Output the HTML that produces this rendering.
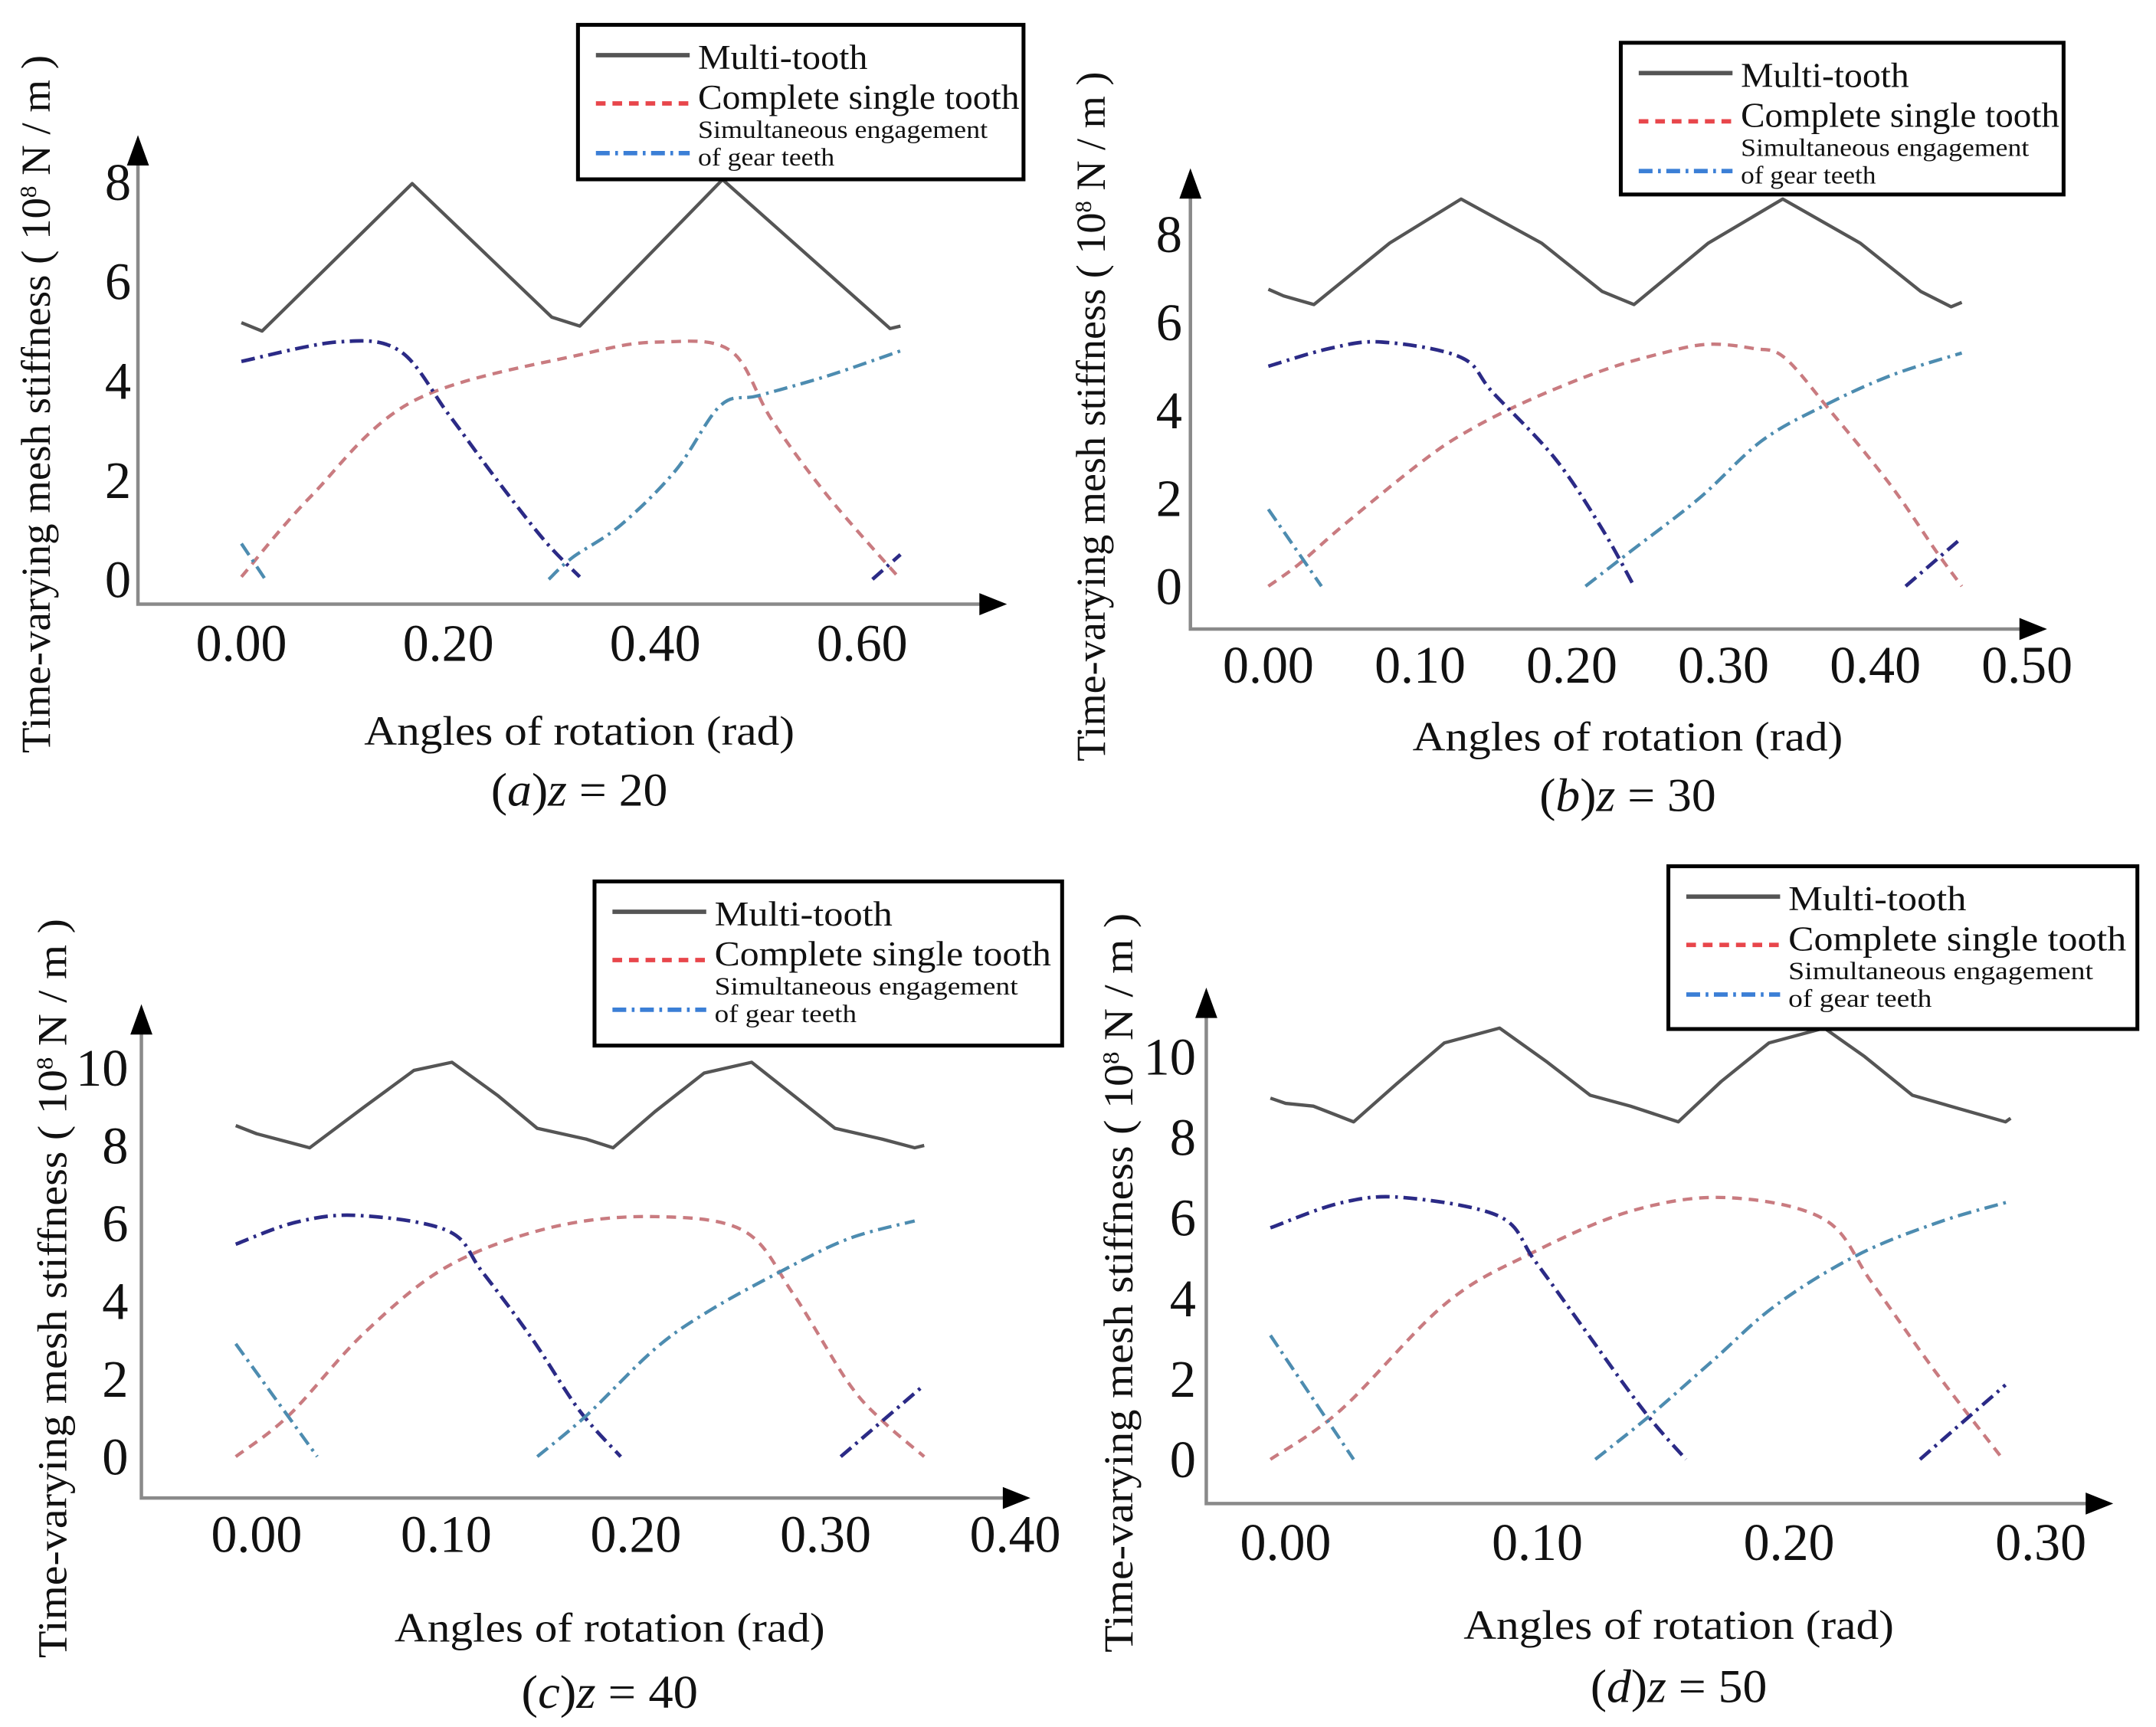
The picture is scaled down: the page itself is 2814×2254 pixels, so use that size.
<!DOCTYPE html>
<html><head><meta charset="utf-8"><title>Time-varying mesh stiffness</title>
<style>
html,body{margin:0;padding:0;background:#fff;}
svg{display:block;}
text{font-family:"Liberation Serif",serif;fill:#111;}
</style></head>
<body>
<svg id="fig" xmlns="http://www.w3.org/2000/svg" width="2814" height="2254" viewBox="0 0 1563 1252" preserveAspectRatio="none"></svg>
<script>
// ---------- data (rad, 1e8 N/m) ----------
const aMultiX=[0,0.02,0.165,0.3,0.327,0.465,0.627,0.637];
const aMultiY=[5.17,5.0,7.97,5.28,5.1,8.05,5.05,5.1];
const aRedX=[0,0.067,0.167,0.333,0.407,0.473,0.513,0.567,0.637];
const aRedY=[0.05,1.67,3.6,4.55,4.78,4.6,3.2,1.67,0];
const aDarkX=[0,0.093,0.153,0.2,0.247,0.293,0.327];
const aDarkY=[4.39,4.78,4.6,3.33,2.0,0.78,0.05];
const aDark2X=[0.61,0.637];
const aDark2Y=[0,0.5];
const aLightX=[0,0.023];
const aLightY=[0.72,0];
const aLight2X=[0.297,0.32,0.367,0.42,0.463,0.5,0.567,0.637];
const aLight2Y=[0,0.44,1.1,2.2,3.5,3.7,4.1,4.6];

const bMultiX=[0,0.01,0.03,0.08,0.127,0.18,0.22,0.241,0.29,0.339,0.39,0.43,0.45,0.457];
const bMultiY=[6.75,6.6,6.4,7.8,8.8,7.8,6.7,6.4,7.8,8.8,7.8,6.7,6.35,6.45];
const bRedX=[0,0.02,0.05,0.1,0.13,0.17,0.22,0.26,0.29,0.32,0.34,0.37,0.41,0.44,0.457];
const bRedY=[0,0.5,1.4,2.8,3.5,4.2,4.9,5.3,5.5,5.4,5.2,4.0,2.3,0.8,0];
const bDarkX=[0,0.04,0.075,0.127,0.148,0.189,0.22,0.241];
const bDarkY=[5.0,5.4,5.55,5.2,4.4,2.9,1.3,0];
const bDark2X=[0.42,0.457];
const bDark2Y=[0,1.1];
const bLightX=[0,0.035];
const bLightY=[1.75,0];
const bLight2X=[0.209,0.239,0.284,0.325,0.366,0.411,0.457];
const bLight2Y=[0,0.8,2.0,3.3,4.1,4.8,5.3];

const cMultiX=[-0.011,0,0.028,0.057,0.083,0.103,0.127,0.148,0.174,0.188,0.21,0.236,0.261,0.283,0.305,0.33,0.347,0.352];
const cMultiY=[8.51,8.3,7.94,9.0,9.93,10.14,9.29,8.44,8.16,7.94,8.87,9.86,10.14,9.29,8.44,8.16,7.94,8.0];
const cRedX=[-0.011,0.017,0.057,0.101,0.156,0.21,0.257,0.283,0.312,0.33,0.352];
const cRedY=[0,1.06,3.19,4.9,5.9,6.17,5.8,4.18,1.9,0.92,0];
const cDarkX=[-0.011,0.021,0.054,0.101,0.119,0.145,0.17,0.192];
const cDarkY=[5.46,6.03,6.2,5.8,4.75,3.05,1.2,0];
const cDark2X=[0.308,0.352];
const cDark2Y=[0,1.84];
const cLightX=[-0.011,0.032];
const cLightY=[2.9,0];
const cLight2X=[0.148,0.174,0.21,0.239,0.276,0.312,0.347];
const cLight2Y=[0,1.06,2.77,3.76,4.75,5.6,6.06];

const dMultiX=[-0.006,0,0.011,0.027,0.044,0.063,0.085,0.104,0.121,0.137,0.156,0.173,0.192,0.214,0.23,0.249,0.268,0.286,0.288];
const dMultiY=[8.97,8.84,8.77,8.38,9.32,10.34,10.71,9.86,9.04,8.77,8.38,9.38,10.34,10.71,10.0,9.04,8.7,8.38,8.47];
const dRedX=[-0.006,0.022,0.063,0.096,0.137,0.175,0.214,0.233,0.258,0.285];
const dRedY=[0,1.23,3.84,5.07,6.16,6.5,5.96,4.38,2.19,0];
const dDarkX=[-0.006,0.022,0.047,0.085,0.099,0.118,0.142,0.159];
const dDarkY=[5.75,6.37,6.5,6.03,4.93,3.29,1.23,0];
const dDark2X=[0.252,0.286];
const dDark2Y=[0,1.85];
const dLightX=[-0.006,0.027];
const dLightY=[3.08,0];
const dLight2X=[0.123,0.145,0.17,0.195,0.227,0.26,0.288];
const dLight2Y=[0,1.1,2.47,3.84,5.07,5.9,6.41];

const aXTicks=[0,0.2,0.4,0.6], aXLabels=["0.00","0.20","0.40","0.60"];
const aYTicks=[0,2,4,6,8];
const bXTicks=[0,0.1,0.2,0.3,0.4,0.5], bXLabels=["0.00","0.10","0.20","0.30","0.40","0.50"];
const bYTicks=[0,2,4,6,8];
const cXTicks=[0,0.1,0.2,0.3,0.4], cXLabels=["0.00","0.10","0.20","0.30","0.40"];
const cYTicks=[0,2,4,6,8,10];
const dXTicks=[0,0.1,0.2,0.3], dXLabels=["0.00","0.10","0.20","0.30"];
const dYTicks=[0,2,4,6,8,10];
const captions=[["a","20"],["b","30"],["c","40"],["d","50"]];

// ---------- layout (figure units) ----------
const NS="http://www.w3.org/2000/svg";
const svg=document.getElementById('fig');
function mk(tag,attrs,parent){const e=document.createElementNS(NS,tag);for(const k in attrs)e.setAttribute(k,attrs[k]);(parent||svg).appendChild(e);return e;}

const panels=[
 {id:'a',axX:100,axY:438,axTop:98,axRight:730,x0:175,xu:750,y0:420,yu:36,tickY:479,yLabEnd:95,titleX:420,titleY:540,capY:584,leg:[419,18,323,112],ytX:36,ytY:293,ytLen:506,
  xt:aXTicks,xl:aXLabels,yt:aYTicks,
  s:{multi:[aMultiX,aMultiY],red:[aRedX,aRedY],dark:[aDarkX,aDarkY],dark2:[aDark2X,aDark2Y],light:[aLightX,aLightY],light2:[aLight2X,aLight2Y]}},
 {id:'b',axX:863,axY:456,axTop:122,axRight:1484,x0:919.5,xu:1100,y0:425,yu:31.9,tickY:495,yLabEnd:857,titleX:1180,titleY:544,capY:588,leg:[1175,31,321,110],ytX:801,ytY:302,ytLen:500,
  xt:bXTicks,xl:bXLabels,yt:bYTicks,
  s:{multi:[bMultiX,bMultiY],red:[bRedX,bRedY],dark:[bDarkX,bDarkY],dark2:[bDark2X,bDark2Y],light:[bLightX,bLightY],light2:[bLight2X,bLight2Y]}},
 {id:'c',axX:102.5,axY:1086,axTop:728,axRight:747,x0:186,xu:1375,y0:1056,yu:28.2,tickY:1125,yLabEnd:93,titleX:442,titleY:1190,capY:1238,leg:[431,639,339,119],ytX:48,ytY:934,ytLen:536,
  xt:cXTicks,xl:cXLabels,yt:cYTicks,
  s:{multi:[cMultiX,cMultiY],red:[cRedX,cRedY],dark:[cDarkX,cDarkY],dark2:[cDark2X,cDark2Y],light:[cLightX,cLightY],light2:[cLight2X,cLight2Y]}},
 {id:'d',axX:874.5,axY:1090,axTop:716,axRight:1532,x0:932,xu:1825,y0:1058,yu:29.2,tickY:1131,yLabEnd:867,titleX:1217,titleY:1188,capY:1234,leg:[1209.5,628,340,118],ytX:821,ytY:930,ytLen:536,
  xt:dXTicks,xl:dXLabels,yt:dYTicks,
  s:{multi:[dMultiX,dMultiY],red:[dRedX,dRedY],dark:[dDarkX,dDarkY],dark2:[dDark2X,dDark2Y],light:[dLightX,dLightY],light2:[dLight2X,dLight2Y]}}
];
const styles={
 multi:{stroke:'#555',w:2.4,dash:'',smooth:false},
 red:{stroke:'#c97b80',w:2.4,dash:'7 5',smooth:true},
 dark:{stroke:'#2b2a86',w:2.6,dash:'10 4 2 4',smooth:true},
 dark2:{stroke:'#2b2a86',w:2.6,dash:'10 4 2 4',smooth:false},
 light:{stroke:'#4d8cb0',w:2.4,dash:'10 4 2 4',smooth:false},
 light2:{stroke:'#4d8cb0',w:2.4,dash:'10 4 2 4',smooth:true}
};
const seriesNames={multi:'multi-tooth-line',red:'single-tooth-line',dark:'engagement-line-1',dark2:'engagement-line-3',light:'engagement-line-0',light2:'engagement-line-2'};

function pathFor(pts,smooth){
  if(!smooth||pts.length<3) return pts.map((p,i)=>(i?'L':'M')+p[0].toFixed(1)+','+p[1].toFixed(1)).join(' ');
  let d='M'+pts[0][0].toFixed(1)+','+pts[0][1].toFixed(1);
  for(let i=0;i<pts.length-1;i++){
    const p0=pts[i-1]||pts[i],p1=pts[i],p2=pts[i+1],p3=pts[i+2]||p2;
    const c1=[p1[0]+(p2[0]-p0[0])/6,p1[1]+(p2[1]-p0[1])/6];
    const c2=[p2[0]-(p3[0]-p1[0])/6,p2[1]-(p3[1]-p1[1])/6];
    d+=` C${c1[0].toFixed(1)},${c1[1].toFixed(1)} ${c2[0].toFixed(1)},${c2[1].toFixed(1)} ${p2[0].toFixed(1)},${p2[1].toFixed(1)}`;
  }
  return d;
}

panels.forEach((p,pi)=>{
  const g=mk('g',{});
  
  
  const sx=v=>p.x0+v*p.xu;
  const sy=v=>p.y0-v*p.yu;
  const ax=mk('path',{d:`M${p.axX},${p.axTop+18} L${p.axX},${p.axY} L${p.axRight-18},${p.axY}`,fill:'none',stroke:'#8a8a8a','stroke-width':2.5},g);
  
  
  const ua=mk('path',{d:`M${p.axX-8},${p.axTop+22} L${p.axX},${p.axTop} L${p.axX+8},${p.axTop+22}Z`,fill:'#000'},g);
  
  
  const ra=mk('path',{d:`M${p.axRight-20},${p.axY-8} L${p.axRight},${p.axY} L${p.axRight-20},${p.axY+8}Z`,fill:'#000'},g);
  
  
  p.xt.forEach((v,i)=>{
    const t=mk('text',{x:sx(v),y:p.tickY,'text-anchor':'middle','font-size':38,textLength:66,lengthAdjust:'spacingAndGlyphs'},g);
    t.textContent=p.xl[i];
    
    
  });
  p.yt.forEach(v=>{
    const t=mk('text',{x:p.yLabEnd,y:sy(v)+13,'text-anchor':'end','font-size':38},g);
    t.textContent=String(v);
    
    
  });
  Object.keys(p.s).forEach(k=>{
    const [xs,ys]=p.s[k];
    const st=styles[k];
    const pts=xs.map((x,i)=>[sx(x),sy(ys[i])]);
    const pl=mk('path',{d:pathFor(pts,st.smooth),fill:'none',stroke:st.stroke,'stroke-width':st.w,'stroke-dasharray':st.dash,'stroke-linejoin':'round'},g);
    
    
  });
  const xt=mk('text',{x:p.titleX,y:p.titleY,'text-anchor':'middle','font-size':30,textLength:312,lengthAdjust:'spacingAndGlyphs'},g);
  xt.textContent='Angles of rotation (rad)';
  
  
  const yt=mk('text',{x:0,y:0,'text-anchor':'middle','font-size':30,textLength:p.ytLen,lengthAdjust:'spacingAndGlyphs',transform:`translate(${p.ytX},${p.ytY}) rotate(-90)`},g);
  yt.innerHTML='Time-varying mesh stiffness ( 10<tspan dy="-10" font-size="17">8</tspan><tspan dy="10"> N / m )</tspan>';
  
  
  const cap=mk('text',{x:p.titleX,y:p.capY,'text-anchor':'middle','font-size':34,textLength:128,lengthAdjust:'spacingAndGlyphs'},g);
  cap.innerHTML='(<tspan font-style="italic">'+captions[pi][0]+'</tspan>)<tspan font-style="italic">z</tspan> = '+captions[pi][1];
  
  
  const [lx,ly,lw,lh]=p.leg;
  const lg=mk('g',{},g);
  
  
  mk('rect',{x:lx,y:ly,width:lw,height:lh,fill:'#fff',stroke:'#000','stroke-width':2.8},lg);
  const L1=lx+13,L2=lx+81,TX=lx+87;
  const rows=[
    {name:'legend-multi-tooth',ly:22,col:'#555',dash:'',txt:'Multi-tooth',ty:32,fs:25,len:0.38},
    {name:'legend-single-tooth',ly:57,col:'#e8464b',dash:'7 5',txt:'Complete single tooth',ty:61,fs:25,len:0.72},
    {name:'legend-engagement',ly:93,col:'#3b7fd6',dash:'10 4 2 4',txt:'Simultaneous engagement',ty:82,fs:18,len:0.65}
  ];
  rows.forEach(r=>{
    const ln=mk('line',{x1:L1,y1:ly+r.ly,x2:L2,y2:ly+r.ly,stroke:r.col,'stroke-width':3.2,'stroke-dasharray':r.dash},lg);
    
    
    const t=mk('text',{x:TX,y:ly+r.ty,'font-size':r.fs,textLength:(lw*r.len).toFixed(0),lengthAdjust:'spacingAndGlyphs'},lg);
    t.textContent=r.txt;
    
    
  });
  const t2=mk('text',{x:TX,y:ly+102,'font-size':18,textLength:(lw*0.305).toFixed(0),lengthAdjust:'spacingAndGlyphs'},lg);
  t2.textContent='of gear teeth';
  
  
});
</script>
</body></html>
